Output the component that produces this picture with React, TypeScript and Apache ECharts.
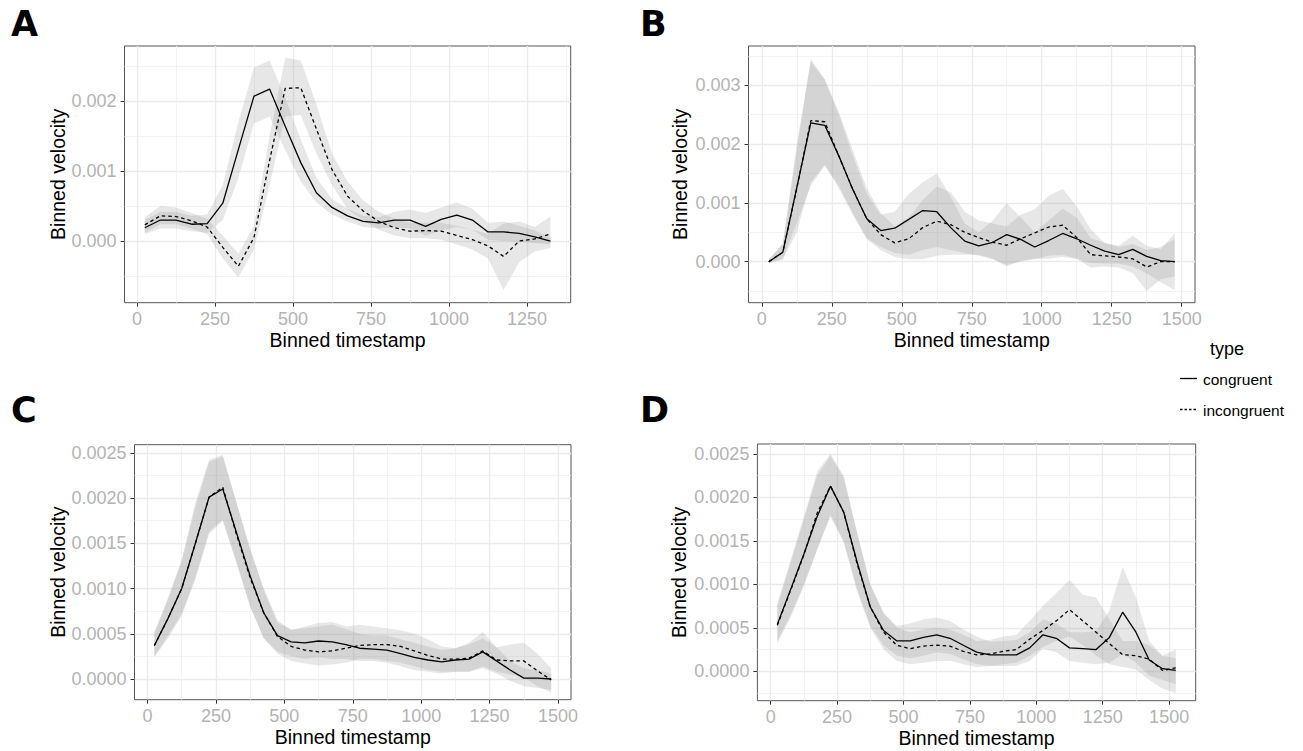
import React, { useEffect, useRef } from "react";
import * as echarts from "echarts";

// ---------- data ----------
const xA = [25, 75, 125, 175, 225, 275, 325, 375, 425, 475, 525, 575, 625, 675, 725, 775, 825, 875, 925, 975, 1025, 1075, 1125, 1175, 1225, 1275, 1325];
const xB = [25, 75, 125, 175, 225, 275, 325, 375, 425, 475, 525, 575, 625, 675, 725, 775, 825, 875, 925, 975, 1025, 1075, 1125, 1175, 1225, 1275, 1325, 1375, 1425, 1475];
const xC = [25, 75, 125, 175, 225, 275, 325, 375, 425, 475, 525, 575, 625, 675, 725, 775, 825, 875, 925, 975, 1025, 1075, 1125, 1175, 1225, 1275, 1325, 1375, 1425, 1475];
const xD = [25, 75, 125, 175, 225, 275, 325, 375, 425, 475, 525, 575, 625, 675, 725, 775, 825, 875, 925, 975, 1025, 1075, 1125, 1175, 1225, 1275, 1325, 1375, 1425, 1475, 1525];

const aCong = [0.00019, 0.0003, 0.0003, 0.00024, 0.00025, 0.00054, 0.00131, 0.00207, 0.00217, 0.00164, 0.00112, 0.00069, 0.00048, 0.00036, 0.00028, 0.00026, 0.0003, 0.0003, 0.00021, 0.00031, 0.00037, 0.0003, 0.00013, 0.00013, 0.00011, 0.00006, 0.0];
const aIncong = [0.00023, 0.00036, 0.00035, 0.00029, 0.0002, -0.00009, -0.00036, 0.00005, 0.00115, 0.00218, 0.00219, 0.0016, 0.00102, 0.00064, 0.00043, 0.00028, 0.00019, 0.00014, 0.00015, 0.00014, 0.00008, 0.00002, -0.00007, -0.00022, 0.0, 0.00003, 0.0001];
const aCongLo = [0.0001, 0.00018, 0.00018, 0.00014, 0.00012, 0.0003, 0.0009, 0.00168, 0.00178, 0.0013, 0.00085, 0.00055, 0.00038, 0.00028, 0.0002, 0.00018, 0.0002, 0.00018, 0.00008, 0.00015, 0.0002, 0.00016, 0.00002, 0.0, -0.00001, -0.00003, -0.00005];
const aCongHi = [0.0003, 0.00042, 0.00042, 0.00036, 0.00038, 0.0008, 0.0017, 0.00248, 0.00258, 0.00205, 0.00145, 0.0009, 0.0006, 0.00046, 0.00036, 0.00034, 0.00042, 0.00045, 0.0004, 0.00048, 0.00055, 0.00046, 0.00026, 0.00028, 0.00022, 0.00015, 0.00005];
const aIncLo = [0.00012, 0.00024, 0.00024, 0.00018, 0.0001, -0.00025, -0.00052, -0.00012, 0.0008, 0.00178, 0.0018, 0.00125, 0.0008, 0.00045, 0.0003, 0.00016, 0.00008, 0.00004, 0.00004, 0.00002, -0.00005, -0.00012, -0.00025, -0.0007, -0.0003, -0.00015, -0.0001];
const aIncHi = [0.00034, 0.0005, 0.00048, 0.0004, 0.00032, 0.00008, -0.00018, 0.00022, 0.0015, 0.00262, 0.00258, 0.00195, 0.00125, 0.00085, 0.00058, 0.00042, 0.00032, 0.00026, 0.00026, 0.00026, 0.00022, 0.00016, 0.0001, 0.00025, 0.00028, 0.0002, 0.00035];

const bCong = [0, 0.00016, 0.00126, 0.00236, 0.00232, 0.0018, 0.00123, 0.00073, 0.00053, 0.00057, 0.00072, 0.00087, 0.00085, 0.00058, 0.00035, 0.00027, 0.00033, 0.00046, 0.00038, 0.00025, 0.00036, 0.00048, 0.00039, 0.00028, 0.00018, 0.00012, 0.00021, 0.00009, 0.00002, 0.0];
const bIncong = [0, 0.00016, 0.00125, 0.0024, 0.00238, 0.0018, 0.00123, 0.00073, 0.00046, 0.00032, 0.00039, 0.00058, 0.00069, 0.00063, 0.0005, 0.00041, 0.00033, 0.00028, 0.00039, 0.00049, 0.00059, 0.00062, 0.00041, 0.00012, 0.0001, 0.00008, 0.00005, -0.00009, 0.0, 0.0];
const bCongLo = [-0.00002, 0.00004, 0.00066, 0.00129, 0.00163, 0.00129, 0.00083, 0.0004, 0.00025, 0.00015, 0.00012, 0.0002, 0.00025, 0.0002, 0.00015, 0.0001, 0.00005, -0.00008, 0.00002, 0.00005, 0.00005, 0.00008, 0.00005, -0.00002, -0.00003, -0.00003, -0.00008, -0.0002, -0.00035, -0.00048];
const bCongHi = [0.00004, 0.0003, 0.0019, 0.00345, 0.0031, 0.0025, 0.0018, 0.00115, 0.0008, 0.00085, 0.00115, 0.00135, 0.0015, 0.0011, 0.00065, 0.0005, 0.0007, 0.001, 0.00075, 0.0005, 0.0007, 0.0009, 0.00075, 0.0004, 0.00032, 0.00027, 0.00044, 0.00027, 0.00021, 0.00048];
const bIncLo = [-0.00002, 0.00004, 0.0005, 0.00135, 0.00165, 0.00125, 0.0008, 0.00038, 0.0002, 0.00008, 0.00004, 0.00004, 0.0001, 0.00012, 0.00012, 0.00012, 0.00004, -0.00005, 0.0, 0.00004, 0.0001, 0.00012, 0.00005, -0.0001, -0.00008, -0.0001, -0.00019, -0.0005, -0.0003, -0.00025];
const bIncHi = [0.00004, 0.0003, 0.002, 0.0034, 0.0031, 0.00255, 0.0019, 0.00125, 0.00083, 0.0006, 0.00075, 0.00105, 0.00128, 0.00118, 0.00085, 0.0007, 0.00065, 0.0006, 0.0008, 0.00089, 0.00112, 0.00124, 0.00094, 0.00055, 0.00032, 0.00025, 0.0003, 0.0002, 0.00025, 0.00038];

const cCong = [0.00037, 0.00067, 0.001, 0.0015, 0.00201, 0.0021, 0.00162, 0.00114, 0.00073, 0.00048, 0.00041, 0.0004, 0.00042, 0.00041, 0.00038, 0.00034, 0.00033, 0.00032, 0.00028, 0.00024, 0.00021, 0.00019, 0.00021, 0.00022, 0.0003, 0.0002, 0.0001, 0.00001, 0.00001, 0.0];
const cIncong = [0.00037, 0.00067, 0.001, 0.0015, 0.00201, 0.00212, 0.0016, 0.00112, 0.00073, 0.00047, 0.00036, 0.00032, 0.0003, 0.00031, 0.00034, 0.00037, 0.00038, 0.00038, 0.00036, 0.00031, 0.00026, 0.00022, 0.00022, 0.00023, 0.00031, 0.00021, 0.0002, 0.0002, 0.00009, -0.00001];
const cCongLo = [0.00025, 0.00048, 0.00072, 0.00112, 0.00163, 0.00176, 0.0013, 0.0008, 0.00045, 0.0003, 0.00025, 0.00022, 0.00024, 0.00022, 0.00022, 0.0002, 0.0002, 0.00018, 0.00014, 0.0001, 0.00008, 0.00006, 0.00008, 0.00008, 0.00012, 0.00006, -0.00002, -0.00008, -0.0001, -0.00012];
const cCongHi = [0.0005, 0.00088, 0.0013, 0.0019, 0.0024, 0.00246, 0.00195, 0.00145, 0.00098, 0.00062, 0.00055, 0.00056, 0.00058, 0.0006, 0.00055, 0.0005, 0.00048, 0.00048, 0.00044, 0.0004, 0.00036, 0.00032, 0.00034, 0.0004, 0.00052, 0.00035, 0.0002, 0.00012, 0.0001, 0.00006];
const cIncLo = [0.00024, 0.00045, 0.0007, 0.0011, 0.0016, 0.00175, 0.00128, 0.0008, 0.00045, 0.00028, 0.0002, 0.00017, 0.00015, 0.00016, 0.00018, 0.00022, 0.00022, 0.0002, 0.00018, 0.00014, 0.0001, 0.00008, 0.00008, 0.00008, 0.00014, 0.00008, 0.00005, 0.00002, -0.00008, -0.00015];
const cIncHi = [0.00052, 0.0009, 0.00132, 0.00195, 0.00242, 0.00248, 0.00195, 0.00142, 0.001, 0.00065, 0.00054, 0.00058, 0.00062, 0.00063, 0.00058, 0.0006, 0.00058, 0.00056, 0.00054, 0.0005, 0.00044, 0.00036, 0.00034, 0.00038, 0.00045, 0.00035, 0.00038, 0.0004, 0.00028, 0.00012];

const dCong = [0.00054, 0.00094, 0.00135, 0.00178, 0.00213, 0.00183, 0.00126, 0.00074, 0.00047, 0.00035, 0.00035, 0.00039, 0.00042, 0.00038, 0.0003, 0.00022, 0.00019, 0.00019, 0.00019, 0.00027, 0.00042, 0.00038, 0.00027, 0.00026, 0.00025, 0.00039, 0.00068, 0.00045, 0.00013, 0.00003, 0.00001];
const dIncong = [0.00053, 0.00093, 0.00134, 0.00182, 0.00213, 0.00183, 0.00124, 0.00074, 0.00045, 0.0003, 0.00026, 0.00029, 0.0003, 0.00029, 0.00023, 0.00019, 0.0002, 0.00023, 0.00025, 0.00037, 0.00047, 0.00058, 0.00071, 0.00058, 0.00045, 0.00032, 0.00019, 0.00018, 0.00014, 0.00001, 0.00004];
const dCongLo = [0.00035, 0.00065, 0.001, 0.0014, 0.0018, 0.0015, 0.00095, 0.00052, 0.0003, 0.00018, 0.00015, 0.00018, 0.00022, 0.0002, 0.00014, 0.00008, 0.00006, 0.00006, 0.00006, 0.00012, 0.00026, 0.00022, 0.00012, 0.0001, 0.00008, 0.0001, 0.0002, 0.0001, -0.00005, -0.0001, -0.00015];
const dCongHi = [0.00075, 0.00125, 0.00175, 0.00225, 0.00248, 0.00222, 0.0016, 0.001, 0.00066, 0.00052, 0.00055, 0.0006, 0.00062, 0.00058, 0.00048, 0.0004, 0.00034, 0.00035, 0.00036, 0.00045, 0.0006, 0.00055, 0.00045, 0.00045, 0.00046, 0.0007, 0.0012, 0.00085, 0.00035, 0.00018, 0.00015];
const dIncLo = [0.00032, 0.00062, 0.00098, 0.0014, 0.00178, 0.00148, 0.00092, 0.0005, 0.00025, 0.00012, 0.00008, 0.0001, 0.00012, 0.00012, 0.00008, 0.00005, 0.00006, 0.00008, 0.0001, 0.00018, 0.00028, 0.00035, 0.0004, 0.0003, 0.00018, 0.00008, 0.00005, 0.00002, -0.0001, -0.0002, -0.00025];
const dIncHi = [0.00078, 0.00128, 0.00178, 0.0023, 0.0025, 0.00225, 0.0016, 0.001, 0.00068, 0.0005, 0.00045, 0.00048, 0.0005, 0.00048, 0.00042, 0.00035, 0.00036, 0.0004, 0.00042, 0.00058, 0.00075, 0.0009, 0.00105, 0.00088, 0.00085, 0.0006, 0.00035, 0.00035, 0.0003, 0.00018, 0.00025];

// tick values
const xTicks1250 = [0, 250, 500, 750, 1000, 1250];
const xTicks1500 = [0, 250, 500, 750, 1000, 1250, 1500];
const xMinorTicks = [125, 375, 625, 875, 1125, 1375];
const yTicksA = [0, 0.001, 0.002];
const yMinorA = [-0.0005, 0.0005, 0.0015, 0.0025];
const yTicksB = [0, 0.001, 0.002, 0.003];
const yMinorB = [-0.0005, 0.0005, 0.0015, 0.0025, 0.0035];
const yTicksCD = [0, 0.0005, 0.001, 0.0015, 0.002, 0.0025];
const yMinorC = [0.00025, 0.00075, 0.00125, 0.00175, 0.00225];
const yMinorD = [-0.00025, 0.00025, 0.00075, 0.00125, 0.00175, 0.00225];

const panelLetters = ["A", "B", "C", "D"];
const legendTitle = "type";
const legendNames = ["congruent", "incongruent"];
const xTitle = "Binned timestamp";
const yTitle = "Binned velocity";

// ---------- layout & style ----------
const FONT = '"Liberation Sans", Arial, Helvetica, sans-serif';
const LETTER_FONT = '"DejaVu Sans", "Liberation Sans", Arial, sans-serif';
const RIBBON = "rgba(153,153,153,0.23)";
const DASH = [3.5, 3];

const panels = [
  { x: xA, cong: aCong, inc: aIncong, cLo: aCongLo, cHi: aCongHi, iLo: aIncLo, iHi: aIncHi,
    xMin: -40, xMax: 1390, yMin: -0.000881, yMax: 0.002786, xt: xTicks1250, yt: yTicksA, ym: yMinorA, dig: 3,
    grid: { left: 124.5, top: 46, width: 446.2, height: 256.7 }, yGap: 57, letter: [11, 24] },
  { x: xB, cong: bCong, inc: bIncong, cLo: bCongLo, cHi: bCongHi, iLo: bIncLo, iHi: bIncHi,
    xMin: -47.5, xMax: 1547.5, yMin: -0.000697, yMax: 0.003668, xt: xTicks1500, yt: yTicksB, ym: yMinorB, dig: 3,
    grid: { left: 748.5, top: 46, width: 446.5, height: 256.7 }, yGap: 59, letter: [640, 24] },
  { x: xC, cong: cCong, inc: cIncong, cLo: cCongLo, cHi: cCongHi, iLo: cIncLo, iHi: cIncHi,
    xMin: -47.5, xMax: 1547.5, yMin: -0.000229, yMax: 0.00259, xt: xTicks1500, yt: yTicksCD, ym: yMinorC, dig: 4,
    grid: { left: 134.5, top: 444.7, width: 436.5, height: 255 }, yGap: 67, letter: [11, 410] },
  { x: xD, cong: dCong, inc: dIncong, cLo: dCongLo, cHi: dCongHi, iLo: dIncLo, iHi: dIncHi,
    xMin: -50, xMax: 1600, yMin: -0.000338, yMax: 0.002615, xt: xTicks1500, yt: yTicksCD, ym: yMinorD, dig: 4,
    grid: { left: 757.4, top: 444, width: 438.3, height: 256.7 }, yGap: 68, letter: [640, 410] },
];

function buildOption() {
  const grid: any[] = [];
  const xAxis: any[] = [];
  const yAxis: any[] = [];
  const series: any[] = [];
  const graphic: any[] = [];

  panels.forEach((p, i) => {
    grid.push({
      ...p.grid, show: true, borderColor: "#555", borderWidth: 1, backgroundColor: "transparent",
      containLabel: false, outerBoundsMode: "none",
    });
    xAxis.push({
      type: "value", gridIndex: i, min: p.xMin, max: p.xMax, position: "bottom",
      axisLine: { show: false, onZero: false },
      axisTick: { show: true, length: 4, lineStyle: { color: "#333", width: 1 }, customValues: p.xt },
      axisLabel: { show: true, customValues: p.xt, color: "#b3b3b3", fontSize: 18, fontFamily: FONT, margin: 7,
        formatter: (v: number) => String(v) },
      splitLine: { show: true, lineStyle: { color: "#ebebeb", width: 1.3 } },
      minorTick: { show: false }, minorSplitLine: { show: false },
      name: xTitle, nameLocation: "middle", nameGap: 27, nameMoveOverlap: false,
      nameTextStyle: { color: "#000", fontSize: 19.5, fontFamily: FONT },
    });
    xAxis.push({
      type: "value", gridIndex: i, min: p.xMin, max: p.xMax, position: "top",
      axisLine: { show: false, onZero: false },
      axisTick: { show: false, customValues: xMinorTicks },
      axisLabel: { show: false, customValues: xMinorTicks },
      splitLine: { show: true, lineStyle: { color: "#f0f0f0", width: 0.8 } },
    });
    yAxis.push({
      type: "value", gridIndex: i, min: p.yMin, max: p.yMax, position: "left",
      axisLine: { show: false, onZero: false },
      axisTick: { show: true, length: 4, lineStyle: { color: "#333", width: 1 }, customValues: p.yt },
      axisLabel: { show: true, customValues: p.yt, color: "#b3b3b3", fontSize: 18, fontFamily: FONT, margin: 8,
        formatter: (v: number) => v.toFixed(p.dig) },
      splitLine: { show: true, lineStyle: { color: "#ebebeb", width: 1.3 } },
      minorTick: { show: false }, minorSplitLine: { show: false },
      name: yTitle, nameLocation: "middle", nameRotate: 90, nameGap: p.yGap, nameMoveOverlap: false,
      nameTextStyle: { color: "#000", fontSize: 19.5, fontFamily: FONT },
    });
    yAxis.push({
      type: "value", gridIndex: i, min: p.yMin, max: p.yMax, position: "right",
      axisLine: { show: false, onZero: false },
      axisTick: { show: false, customValues: p.ym },
      axisLabel: { show: false, customValues: p.ym },
      splitLine: { show: true, lineStyle: { color: "#f0f0f0", width: 0.8 } },
    });

    const ribbon = (lo: number[], hi: number[]) => ({
      type: "custom", xAxisIndex: 2 * i, yAxisIndex: 2 * i, silent: true, z: 1,
      data: p.x.map((xv, k) => [xv, lo[k], hi[k]]),
      encode: { x: 0, y: [1, 2] },
      renderItem: (params: any, api: any) => {
        if (params.dataIndex !== 0) return null;
        const top = p.x.map((xv, k) => api.coord([xv, hi[k]]));
        const bot = p.x.map((xv, k) => api.coord([xv, lo[k]])).reverse();
        return { type: "polygon", shape: { points: top.concat(bot) }, style: { fill: RIBBON } };
      },
    });
    series.push(ribbon(p.cLo, p.cHi));
    series.push(ribbon(p.iLo, p.iHi));
    series.push({
      type: "line", name: legendNames[0], xAxisIndex: 2 * i, yAxisIndex: 2 * i, z: 3, silent: true,
      symbol: "none", data: p.x.map((xv, k) => [xv, p.cong[k]]),
      lineStyle: { color: "#000", width: 1.3, type: "solid" },
    });
    series.push({
      type: "line", name: legendNames[1], xAxisIndex: 2 * i, yAxisIndex: 2 * i, z: 3, silent: true,
      symbol: "none", data: p.x.map((xv, k) => [xv, p.inc[k]]),
      lineStyle: { color: "#000", width: 1.3, type: DASH },
    });

    graphic.push({
      type: "text", x: p.letter[0], y: p.letter[1], silent: true,
      style: { text: panelLetters[i], fill: "#000", fontSize: 35, fontWeight: "bold", fontFamily: LETTER_FONT,
        align: "left", verticalAlign: "middle", textAlign: "left", textVerticalAlign: "middle" },
    });
  });

  // legend
  graphic.push({
    type: "text", x: 1210, y: 349, silent: true,
    style: { text: legendTitle, fill: "#000", fontSize: 18, fontFamily: FONT,
      align: "left", verticalAlign: "middle", textAlign: "left", textVerticalAlign: "middle" },
  });
  graphic.push({ type: "line", silent: true, shape: { x1: 1180, y1: 378.5, x2: 1197, y2: 378.5 },
    style: { stroke: "#000", lineWidth: 1.3 } });
  graphic.push({ type: "line", silent: true, shape: { x1: 1180, y1: 409.5, x2: 1197, y2: 409.5 },
    style: { stroke: "#000", lineWidth: 1.3, lineDash: [2.5, 2] } });
  graphic.push({
    type: "text", x: 1203, y: 379, silent: true,
    style: { text: legendNames[0], fill: "#000", fontSize: 15.5, fontFamily: FONT,
      align: "left", verticalAlign: "middle", textAlign: "left", textVerticalAlign: "middle" },
  });
  graphic.push({
    type: "text", x: 1203, y: 410, silent: true,
    style: { text: legendNames[1], fill: "#000", fontSize: 15.5, fontFamily: FONT,
      align: "left", verticalAlign: "middle", textAlign: "left", textVerticalAlign: "middle" },
  });

  return {
    animation: false,
    backgroundColor: "#fff",
    textStyle: { fontFamily: FONT },
    grid, xAxis, yAxis, series, graphic,
  };
}

export default function App() {
  const ref = useRef<HTMLDivElement>(null);
  useEffect(() => {
    if (!ref.current) return;
    const chart = echarts.init(ref.current, undefined, { renderer: "svg" });
    chart.setOption(buildOption() as any);
    return () => chart.dispose();
  }, []);
  return (
    <div
      ref={ref}
      style={{ position: "fixed", left: 0, top: 0, width: 1303, height: 751, background: "#fff" }}
    />
  );
}
